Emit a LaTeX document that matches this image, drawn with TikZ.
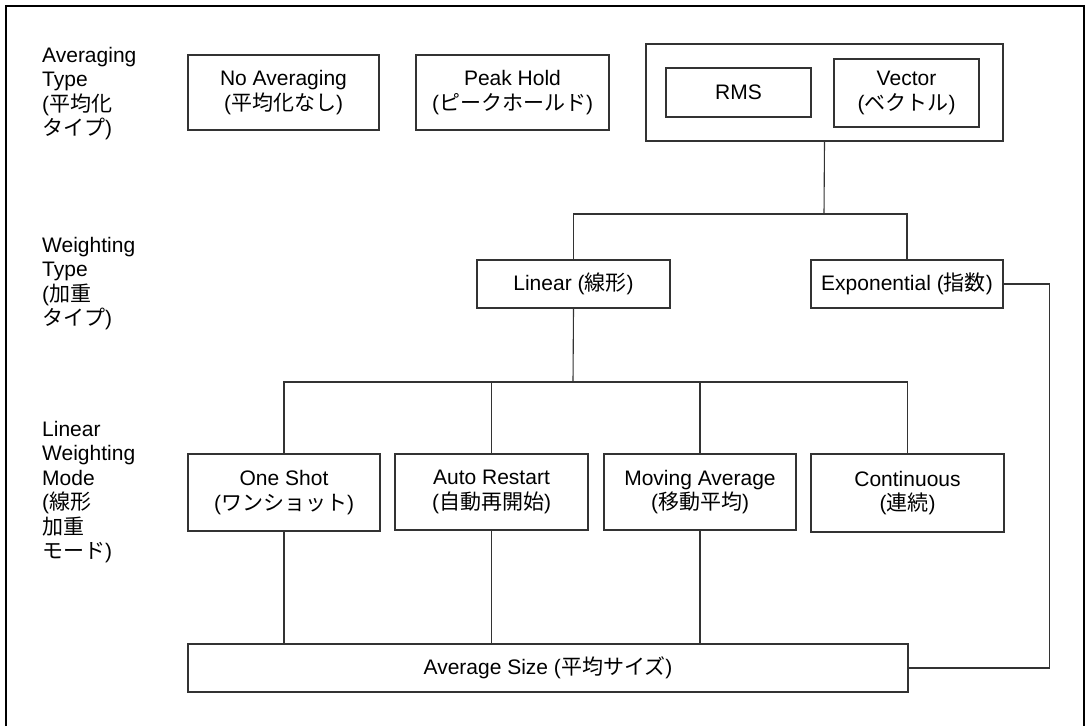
\documentclass[tikz,border=0pt]{standalone}
\usepackage{fontspec}
\setmainfont{Liberation Sans}
\newfontfamily\jp{Noto Sans CJK JP}
\begin{document}
\begin{tikzpicture}[x=1pt,y=-1pt,
  txt/.style={font=\fontsize{21}{24.5}\selectfont},
  box/.style={txt, draw=black!80, line width=1.1pt, align=center, inner sep=0pt},
  lab/.style={txt, align=left, anchor=north west, inner sep=0pt},
  conn/.style={draw=black!80, line width=1.1pt}]
\useasboundingbox (0,0) rectangle (1086,726);
% outer frame (no bottom edge visible)
\draw[line width=2pt] (6,726) -- (6,6) -- (1084,6) -- (1084,726);

% row labels
\node[lab] (labA) at (42,47) {Averaging\\Type\\({\jp 平均化}\\{\jp タイプ})};
\node[lab] (labW) at (42,237) {Weighting\\Type\\({\jp 加重}\\{\jp タイプ})};
\node[lab] (labL) at (42,421) {Linear\\Weighting\\Mode\\({\jp 線形}\\{\jp 加重}\\{\jp モード})};

% averaging types
\node[box, minimum width=191pt, minimum height=75pt] (noavg) at (283.5,92.5) {No Averaging\\({\jp 平均化なし})};
\node[box, minimum width=193pt, minimum height=75pt] (peak) at (512.5,92.5) {Peak Hold\\({\jp ピークホールド})};
\node[box, minimum width=357pt, minimum height=97pt] (group) at (824.5,92.5) {};
\node[box, minimum width=145pt, minimum height=49pt] (rms) at (738.5,92.5) {RMS};
\node[box, minimum width=145pt, minimum height=68pt] (vector) at (906.5,93) {Vector\\({\jp ベクトル})};

% weighting types
\node[box, minimum width=193pt, minimum height=48pt] (linear) at (573.5,284) {Linear ({\jp 線形})};
\node[box, minimum width=192pt, minimum height=48pt] (expo) at (907,284) {Exponential ({\jp 指数})};

% linear weighting modes
\node[box, minimum width=192pt, minimum height=77pt] (oneshot) at (284,492.5) {One Shot\\({\jp ワンショット})};
\node[box, minimum width=193pt, minimum height=76pt] (autor) at (491.5,492) {Auto Restart\\({\jp 自動再開始})};
\node[box, minimum width=192pt, minimum height=76pt] (moving) at (700,492) {Moving Average\\({\jp 移動平均})};
\node[box, minimum width=193pt, minimum height=78pt] (cont) at (907.5,493) {Continuous\\({\jp 連続})};

% average size
\node[box, minimum width=720pt, minimum height=48pt] (avgsize) at (548,668) {Average Size ({\jp 平均サイズ})};

% junction coordinates
\coordinate (j1) at (824,214);
\coordinate (j2) at (573,382);

% connectors
\draw[conn] (group.south) -- (j1);
\draw[conn] (linear.north) -- (linear.north |- j1) -- (expo.north |- j1) -- (expo.north);
\draw[conn] (linear.south) -- (j2);
\draw[conn] (oneshot.north) -- (oneshot.north |- j2) -- (cont.north |- j2) -- (cont.north);
\draw[conn] (autor.north) -- (autor.north |- j2);
\draw[conn] (moving.north) -- (moving.north |- j2);
\draw[conn] (oneshot.south) -- (oneshot.south |- avgsize.north);
\draw[conn] (autor.south) -- (autor.south |- avgsize.north);
\draw[conn] (moving.south) -- (moving.south |- avgsize.north);
\draw[conn] (expo.east) -- ++(46,0) |- (avgsize.east);
\end{tikzpicture}
\end{document}
